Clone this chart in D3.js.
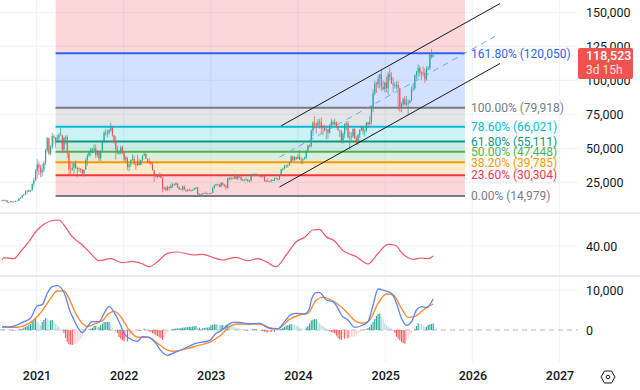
<!DOCTYPE html>
<html><head><meta charset="utf-8">
<script src="https://cdn.jsdelivr.net/npm/d3@7/dist/d3.min.js"></script>
<style>html,body{margin:0;padding:0;background:#fff;overflow:hidden}svg{display:block}text{font-family:Roboto,sans-serif}</style>
</head><body><svg id="c" width="640" height="390"></svg>
<script>
const firstWeek = "2020-08-10";
const closes = [
11.8,11.6,11.7,10.3,10.3,11.1,10.7,10.6,11.3,11.4,13.1,13.8,15.5,16.0,18.7,18.2,19.2,19.2,23.9,26.4,33.0,
38.2,36.0,32.3,34.3,39.2,48.6,57.4,46.2,50.9,59.0,58.0,55.8,58.0,60.0,60.1,49.1,57.8,58.2,46.4,34.8,34.7,35.8,39.0,35.6,34.7,35.3,34.3,31.5,34.3,41.5,44.6,47.0,48.9,49.0,49.9,45.2,48.3,42.7,48.2,54.9,61.5,60.9,61.3,63.3,65.5,59.7,54.8,49.4,46.7,46.7,50.8,47.3,
41.9,43.1,36.3,38.2,41.4,42.2,38.4,37.7,39.4,37.8,41.3,44.5,45.8,42.2,40.4,39.7,38.5,34.0,30.1,29.4,29.0,29.9,28.4,20.6,21.0,19.3,21.6,20.8,22.6,23.6,23.2,24.3,21.5,20.0,20.0,21.8,19.4,18.9,19.0,19.4,19.3,19.6,20.6,21.3,16.3,16.3,16.4,17.1,17.1,16.8,16.8,16.6,
17.1,20.9,22.7,23.7,23.3,21.8,24.6,23.2,22.4,21.1,27.9,27.6,28.2,27.9,30.3,27.6,29.3,28.9,26.8,26.8,26.9,27.1,25.9,26.3,30.5,30.5,30.3,30.3,29.8,29.3,29.0,29.4,26.0,26.1,25.9,25.8,26.5,26.6,28.0,28.0,27.2,30.0,34.5,35.0,37.1,37.4,37.5,39.9,44.0,41.4,43.7,42.2,
44.0,41.7,41.6,42.0,43.0,48.3,52.1,51.7,63.1,68.9,68.4,67.2,69.6,69.4,65.7,64.9,63.4,64.0,61.5,67.0,69.3,67.8,69.3,66.2,63.2,62.7,55.9,60.8,68.2,68.3,58.2,58.7,58.9,64.2,57.3,54.1,60.0,63.6,65.9,62.8,62.9,69.0,68.0,69.4,80.4,90.6,97.7,97.2,101.2,104.5,95.2,93.7,98.4,
94.5,104.5,102.6,97.7,96.5,96.5,96.6,94.2,80.7,82.5,86.1,82.3,83.5,83.7,85.2,93.7,94.3,104.1,106.5,109.0,105.6,105.7,105.6,100.9,108.4,109.2,119.1,117.4,118.523];
const highs = [
12.1,12.4,11.8,12.1,10.6,11.2,11.2,10.9,11.5,11.7,13.2,14.0,15.9,16.5,18.9,19.4,19.9,19.4,24.2,28.4,34.8,
42.0,40.0,37.9,38.6,40.9,49.7,58.4,58.0,52.6,61.7,60.5,58.4,59.8,61.2,64.9,57.5,58.5,59.5,59.6,46.7,40.4,39.4,40.0,41.3,36.6,36.0,35.0,34.6,34.5,42.6,46.0,48.1,50.5,50.4,52.9,52.9,48.8,48.4,48.2,56.0,62.9,64.5,63.7,64.3,69.0,66.3,59.5,59.0,51.9,48.5,51.9,52.0,
47.6,44.3,43.5,38.9,41.7,45.8,44.7,39.8,45.4,42.5,41.7,45.0,47.4,47.0,42.4,43.0,40.7,40.0,34.2,31.4,30.6,32.2,31.7,28.5,22.0,22.0,22.5,21.8,24.2,24.6,24.2,25.2,24.4,22.0,20.6,22.8,22.7,19.9,20.4,20.4,19.9,19.7,21.0,21.4,21.5,17.2,16.8,17.3,17.4,18.4,17.0,16.9,
17.4,21.3,23.4,23.8,24.2,23.5,25.2,25.0,23.9,22.8,28.5,28.9,29.2,28.5,31.0,30.5,30.0,29.9,29.8,27.7,27.2,28.4,27.4,26.8,31.4,31.4,31.5,31.8,30.3,30.3,30.0,30.1,29.7,26.8,28.1,26.0,27.5,27.1,28.6,28.6,27.9,30.2,35.2,35.9,37.9,37.9,38.4,40.2,44.7,44.7,44.3,43.4,
45.9,48.9,43.5,42.8,43.9,48.6,52.8,52.9,64.0,70.1,73.8,68.8,71.5,71.8,72.8,66.9,67.2,65.5,63.4,67.7,71.9,70.6,71.9,70.0,66.5,63.3,63.8,61.7,68.4,70.0,70.0,62.7,61.8,65.0,64.9,58.9,60.6,64.1,66.5,65.6,64.4,69.4,69.5,73.6,81.8,93.4,99.6,98.9,103.6,105.0,108.3,99.9,99.0,
102.7,106.3,109.6,106.0,102.5,98.7,99.3,99.5,94.4,84.2,87.4,88.5,88.5,86.0,85.5,95.7,97.9,104.3,107.1,111.9,110.7,106.8,110.3,108.8,110.5,110.6,119.5,123.1,120.2];
const lows = [
11.1,11.1,11.1,10.0,9.9,10.2,10.1,10.4,10.5,11.2,11.4,13.0,13.2,15.0,15.9,16.2,18.1,17.6,19.0,21.8,26.0,
27.7,30.4,28.9,29.2,32.3,38.0,47.0,44.9,45.0,49.3,53.3,50.4,57.0,55.5,59.8,47.0,47.0,53.0,43.0,30.0,31.0,33.3,31.1,34.8,28.8,32.7,32.1,29.3,29.3,34.7,37.3,43.8,44.4,46.4,46.9,43.0,43.4,40.7,40.8,47.2,53.9,59.5,57.9,60.0,62.3,58.6,53.7,41.9,45.7,45.5,45.6,45.7,
40.7,39.7,34.0,32.9,36.3,41.0,38.0,34.4,37.2,37.6,37.6,40.5,44.9,42.1,39.3,38.7,37.6,33.7,25.3,28.6,28.0,28.8,28.2,17.6,19.7,18.6,19.0,18.9,20.7,20.7,22.4,22.7,20.8,19.5,19.5,18.5,19.3,18.1,18.5,19.0,18.2,18.7,19.2,20.0,15.6,15.8,15.5,16.0,16.7,16.3,16.3,16.3,
16.5,17.2,20.4,22.3,22.7,21.4,21.4,22.8,21.9,19.6,20.5,26.6,26.5,27.2,27.9,27.2,26.9,28.1,26.3,26.3,25.9,26.5,25.4,24.8,25.7,29.5,29.9,29.7,29.6,29.1,28.6,28.8,25.3,25.4,25.4,25.4,24.9,26.0,26.0,27.2,26.5,26.8,29.9,33.4,34.5,35.6,35.6,37.5,39.9,40.6,40.6,41.5,
42.6,41.5,38.5,38.5,41.9,42.3,47.7,50.6,50.8,59.0,64.6,60.8,66.4,64.5,60.7,59.6,62.4,56.6,56.9,60.9,66.6,66.6,67.2,65.0,63.4,58.4,53.9,53.5,57.5,63.4,57.2,49.0,56.1,57.8,57.2,52.5,52.6,57.5,62.7,60.0,58.9,62.0,65.3,66.8,67.5,76.7,89.2,90.8,94.5,94.2,92.2,92.6,91.3,
91.2,89.3,100.1,97.7,91.2,94.1,93.4,78.2,76.6,76.6,81.0,81.6,81.3,74.4,83.0,84.6,92.0,92.8,100.8,102.0,103.1,100.4,103.4,98.2,99.8,107.3,107.6,116.0,116.9];

const fibPct = [261.8,161.8,100,78.6,61.8,50,38.2,23.6,0];
const fibValue = [190000,120050,79918,66021,55111,47448,39785,30304,14979];
const fibColor = ["#f23645","#2962ff","#787b86","#00bcd4","#089981","#4caf50","#ff9800","#f23645","#787b86"];
const fibStartWeek = 32, fibEndWeek = 277;

const channelWeeks = {upper:[167,298], lower:[166,298], mid:[166,295]};
const channelPrices = {upper:[66600,156600], lower:[21600,112500], mid:[43600,132400]};

const rsiWeeks = [0,1,7,11,16,21,25,29,34,37,42,48,52,58,65,72,78,83,88,93,99,105,115,120,126,132,140,147,153,158,164,170,176,181,186,190,194,199,204,207,212,219,225,231,235,240,246,251,255,258];
const rsiValues = [26,28.3,27.3,34.3,44.3,56,61.7,65,66,61,49.3,41,34.3,25.3,27.3,23.3,24.7,22.7,19.3,24.3,32.7,34,31,31.7,28.7,26,28.7,25.3,27.3,24.3,19.3,31,44.3,48.7,56,56.7,49.3,45,35.3,32.7,29.3,22,32.7,41.7,41,31.7,26.7,28,27.3,30];

const macdWeeks = [0,5,9,13,17,21,24,27,30,33,35,38,40,43,46,48,51,54,58,61,64,67,70,73,76,81,84,88,92,95,99,102,107,116,124,128,131,134,138,142,148,154,160,165,169,173,176,181,184,185,188,190,194,198,201,203,207,211,216,219,222,225,229,233,236,239,242,245,248,251,254,258];
const macdValues = [830,750,1250,2080,2920,6000,6330,9160,10830,11080,10660,8330,5400,2500,170,-670,830,2080,2080,4170,5830,4420,2080,-830,-2080,-2830,-1670,-1830,-3330,-5170,-6330,-5830,-5000,-3330,-2670,-830,-170,830,1920,1920,1500,1670,420,250,2080,3920,4170,4000,5410,7500,9330,9330,7500,7080,5410,3750,2500,670,1250,2080,6250,10250,9830,9160,6660,2920,1170,2080,5000,5830,5660,7750];
const signalWeeks = [0,9,15,21,25,29,33,37,40,44,48,51,56,60,64,67,71,76,81,87,93,98,102,109,117,125,131,136,141,148,154,160,165,172,178,183,188,192,199,205,212,216,220,225,230,234,239,243,247,252,258];
const signalValues = [670,670,1420,3330,5410,7910,9750,9750,7910,4170,1670,830,1670,2330,4170,4660,3330,0,-1830,-1830,-3330,-4830,-5330,-4830,-3920,-2920,-1250,830,1500,1500,1500,580,330,2660,3750,4170,7500,8160,7000,5000,2080,1670,2500,6660,9000,8750,5410,3160,3330,5000,6500];
const histHundreds = [
1,1,.5,.5,.5,0,-.5,-1,-1,0,1,2,3,6,8,10,13,15,22,25,28,22,16,12,20,25,30,28,24,24,25,20,15,12,8,2,-2,-8,-20,-30,-36,-37,-37,-36,-35,-33,-28,-22,-16,-8,-4,-1,2,3,5,10,10,7,7,12,16,20,20,20,20,13,5,-1,-3,-8,-18,-22,-25,-28,-20,-28,-18,-12,-8,-5,-3,-2,-2,-2,.5,3,1,-1,-3,-5,-8,-10,-13,-15,-18,-20,-25,-16,-10,-6,-3,-1,2,3,4,4,4,5,6,6,7,7,8,8,9,9,10,6,6,4,4,5,6,6,7,12,13,14,14,13,12,12,
12,10,13,13,12,10,9,7,6,5,4,3,1,.5,-1,-2,-1,1,2,2,2,1,-1,-1,-3,-4,-6,-6,-5,-5,-4,-4,-2,-1,1,3,5,8,11,12,14,15,14,13,11,10,6,4,3,2,6,10,16,24,26,27,27,22,17,13,10,7,4,1,-3,-5,-6,-8,-14,-20,-23,-25,-20,-22,-21,-21,-19,-18,-17,-16,-12,-8,-6,-4,-2,1,2,5,8,14,20,28,35,40,41,32,26,16,12,8,6,4,-1,-7,-17,-22,-26,-30,-33,-34,-25,-20,-12,-8,-3,3,10,17,16,15,11,8,8,13,14,15,16];

const priceTicks = [25000,50000,75000,100000,125000,150000];
const yearTicks = [2021,2022,2023,2024,2025,2026,2027];
const lastPriceLabel = "118,523", countdownLabel = "3d 15h";

const svg = d3.select("#c");
const W = 640, axisX = 578, timeY = 362;
const t0 = new Date(firstWeek + "T00:00:00Z").getTime();
const weekDate = i => new Date(t0 + i*7*864e5);
const x = d3.scaleUtc().domain([Date.UTC(2021,0,1),Date.UTC(2027,0,1)]).range([36.5,559.5]);
const X = i => x(weekDate(i));
const y = d3.scaleLinear().domain([14979,120050]).range([196,53.2]);
const yR = d3.scaleLinear().domain([40,66]).range([246,220]);
const yM = d3.scaleLinear().domain([0,10000]).range([330,290]);

// grid
const gridC = "#f0f3fa";
svg.append("g").selectAll("line").data(yearTicks).join("line")
  .attr("x1",d=>x(Date.UTC(d,0,1))).attr("x2",d=>x(Date.UTC(d,0,1))).attr("y1",0).attr("y2",timeY)
  .attr("stroke",gridC).attr("stroke-width",1.2);
svg.append("g").selectAll("line").data(priceTicks).join("line")
  .attr("x1",0).attr("x2",axisX).attr("y1",d=>y(d)).attr("y2",d=>y(d)).attr("stroke",gridC).attr("stroke-width",1.2);
[[yR(40)],[yM(10000)]].forEach(([p])=>svg.append("line").attr("x1",0).attr("x2",axisX).attr("y1",p).attr("y2",p).attr("stroke",gridC).attr("stroke-width",1.2));

// clip for price pane
svg.append("clipPath").attr("id","pp").append("rect").attr("x",0).attr("y",0).attr("width",axisX).attr("height",212);
const price = svg.append("g").attr("clip-path","url(#pp)");

// fib bands
const fx0 = X(fibStartWeek), fx1 = X(fibEndWeek);
const bandIdx = d3.range(fibValue.length-1);
price.append("g").selectAll("rect").data(bandIdx).join("rect")
  .attr("x",fx0).attr("width",fx1-fx0)
  .attr("y",i=>y(fibValue[i])).attr("height",i=>y(fibValue[i+1])-y(fibValue[i]))
  .attr("fill",i=>fibColor[i]).attr("fill-opacity",.2);
price.append("g").selectAll("line").data(d3.range(1,fibValue.length)).join("line")
  .attr("x1",fx0).attr("x2",fx1).attr("y1",i=>y(fibValue[i])).attr("y2",i=>y(fibValue[i]))
  .attr("stroke",i=>fibColor[i]).attr("stroke-width",2);

// candles
const n = closes.length;
const bars = d3.range(n).map(i=>({i,o:(i?closes[i-1]:11.6)*1000,c:closes[i]*1000,h:highs[i]*1000,l:lows[i]*1000}));
const col = d=>d.c>=d.o?"#26a69a":"#ef5350";
const cg = price.append("g");
cg.selectAll(".w").data(bars).join("line").attr("class","w")
  .attr("x1",d=>X(d.i)).attr("x2",d=>X(d.i)).attr("y1",d=>y(d.h)).attr("y2",d=>y(d.l)).attr("stroke",col).attr("stroke-width",.7);
cg.selectAll(".b").data(bars).join("rect").attr("class","b")
  .attr("x",d=>X(d.i)-.55).attr("width",1.1)
  .attr("y",d=>y(Math.max(d.o,d.c))).attr("height",d=>Math.max(.7,Math.abs(y(d.o)-y(d.c)))).attr("fill",col);

// channel
const chan = (k,stroke,w,dash)=>price.append("path")
  .attr("d",d3.line().x(i=>X(channelWeeks[k][i])).y(i=>y(channelPrices[k][i]))([0,1]))
  .attr("fill","none").attr("stroke",stroke).attr("stroke-width",w).attr("stroke-dasharray",dash||null);
chan("mid","#64a8f0",1,"6,5");
chan("upper","#131722",1);
chan("lower","#131722",1);

// fib labels
const fmt = d3.format(",");
svg.append("g").selectAll("text").data(d3.range(1,fibValue.length)).join("text")
  .attr("x",471).attr("y",i=>y(fibValue[i])).attr("dy","0.36em")
  .attr("font-size",12).attr("fill",i=>fibColor[i])
  .text(i=>`${fibPct[i].toFixed(2)}% (${fmt(fibValue[i])})`);

// RSI-like line
svg.append("path").attr("fill","none").attr("stroke","#f0566a").attr("stroke-width",1.2)
  .attr("d",d3.line().x((d,i)=>X(rsiWeeks[i])).y(d=>yR(d)).curve(d3.curveMonotoneX)(rsiValues));

// MACD pane
svg.append("line").attr("x1",0).attr("x2",axisX).attr("y1",yM(0)).attr("y2",yM(0))
  .attr("stroke","#b2b5be").attr("stroke-dasharray","5,4");
const histColor = i=>{const v=histHundreds[i],p=i?histHundreds[i-1]:v;
  return v>=0?(v>=p?"#26a69a":"#b2dfdb"):(v<=p?"#ff5252":"#ffcdd2");};
svg.append("g").selectAll("rect").data(histHundreds).join("rect")
  .attr("x",(d,i)=>X(i)-.55).attr("width",1.1)
  .attr("y",d=>Math.min(yM(d*100),yM(0))).attr("height",d=>Math.abs(yM(d*100)-yM(0)))
  .attr("fill",(d,i)=>histColor(i));
svg.append("path").attr("fill","none").attr("stroke","#ff8a33").attr("stroke-width",1.4)
  .attr("d",d3.line().x((d,i)=>X(signalWeeks[i])).y(d=>yM(d)).curve(d3.curveMonotoneX)(signalValues));
svg.append("path").attr("fill","none").attr("stroke","#5b83f5").attr("stroke-width",1.3)
  .attr("d",d3.line().x((d,i)=>X(macdWeeks[i])).y(d=>yM(d)).curve(d3.curveMonotoneX)(macdValues));

// separators
[213,276].forEach(p=>svg.append("line").attr("x1",0).attr("x2",W).attr("y1",p).attr("y2",p).attr("stroke","#e0e3eb").attr("stroke-width",1.4));

// axes
const axStyle = g=>{g.select(".domain").remove();g.selectAll("line").remove();
  g.selectAll("text").attr("font-family","Roboto,sans-serif").attr("font-size",12.5).attr("fill","#131722");};
svg.append("g").attr("transform",`translate(583,0)`)
  .call(d3.axisRight(y).tickValues(priceTicks).tickFormat(fmt).tickSize(0).tickPadding(3)).call(axStyle);
svg.append("g").attr("transform",`translate(583,0)`)
  .call(d3.axisRight(yR).tickValues([40]).tickFormat(d3.format(".2f")).tickSize(0).tickPadding(3)).call(axStyle);
svg.append("g").attr("transform",`translate(583,0)`)
  .call(d3.axisRight(yM).tickValues([0,10000]).tickFormat(fmt).tickSize(0).tickPadding(3)).call(axStyle);
svg.append("g").attr("transform",`translate(0,${timeY})`)
  .call(d3.axisBottom(x).tickValues(yearTicks.map(d=>new Date(Date.UTC(d,0,1)))).tickFormat(d3.utcFormat("%Y")).tickSize(0).tickPadding(9))
  .call(axStyle).selectAll("text").attr("font-weight",500);

// last price tag
svg.append("rect").attr("x",axisX).attr("y",48).attr("width",55).attr("height",31).attr("rx",2).attr("fill","#ef5350");
svg.append("text").attr("x",586).attr("y",60).attr("font-size",12.5).attr("font-weight",500).attr("fill","#fff").text(lastPriceLabel);
svg.append("text").attr("x",586).attr("y",74).attr("font-size",12).attr("fill","#fff").attr("fill-opacity",.85).text(countdownLabel);

// settings icon
const ic = svg.append("g").attr("transform","translate(608,377)").attr("fill","none").attr("stroke","#131722").attr("stroke-width",1);
ic.append("path").attr("d","M-7 0L-3.5 -6H3.5L7 0L3.5 6H-3.5Z");
ic.append("circle").attr("r",1.8);
</script></body></html>
